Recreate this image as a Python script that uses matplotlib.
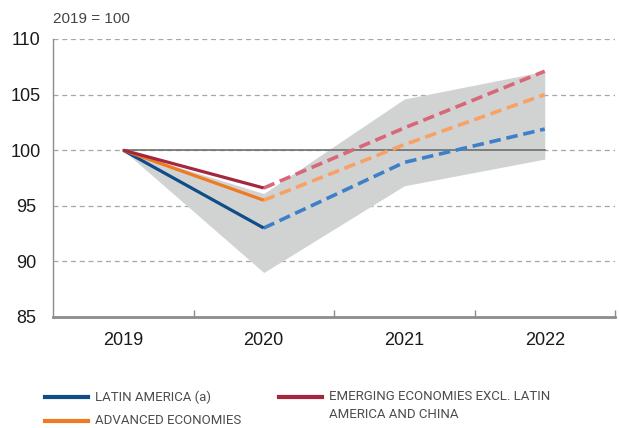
import matplotlib.pyplot as plt
from matplotlib.lines import Line2D

years = ['2019', '2020', '2021', '2022']
latin_america = [100, 93.0, 98.9, 101.9]
advanced = [100, 95.5, 100.5, 105.0]
emerging = [100, 96.6, 102.0, 107.1]
band_low = [100, 89.0, 96.8, 99.2]
band_high = [100, 96.1, 104.6, 107.1]
y_ticks = [85, 90, 95, 100, 105, 110]

plt.rcParams['font.family'] = ['Liberation Sans', 'DejaVu Sans']

fig = plt.figure(figsize=(6.19, 4.28), dpi=100)
ax = fig.add_axes([53 / 619, 1 - 317 / 428, 562 / 619, 278 / 428])

x = list(range(len(years)))

# grey range band
ax.fill_between(x, band_low, band_high, color='#d1d2d2', lw=0, zorder=1)

# grid
for v in y_ticks[1:]:
    ax.axhline(v, color='#a6a6a6', lw=0.9, ls=(0, (4, 3)), zorder=0)
ax.plot([x[0], x[-1]], [100, 100], color='#6e6e6e', lw=1.2, zorder=2)

# observed (solid) and forecast (dashed)
series = [
    (latin_america, '#0f4c88', '#3d80c8'),
    (advanced, '#f07a21', '#f7a263'),
    (emerging, '#a3283f', '#d9677a'),
]
for vals, c_solid, c_dash in series:
    ax.plot(x[:2], vals[:2], color=c_solid, lw=2.3, zorder=4, solid_capstyle='butt')
    ax.plot(x[1:], vals[1:], color=c_dash, lw=2.6, ls=(0, (3.2, 1.6)), zorder=3)

ax.set_xlim(-0.5, 3.5)
ax.set_ylim(85, 110)
ax.set_yticks(y_ticks)
ax.set_xticks(x)
ax.set_xticklabels(years)
ax.set_xticks([0.5, 1.5, 2.5, 3.5], minor=True)
ax.tick_params(axis='x', which='major', length=0, pad=11, labelsize=13, colors='#1a1a1a')
ax.tick_params(axis='x', which='minor', direction='in', length=5, color='#8c8c8c', width=1)
ax.tick_params(axis='y', length=0, pad=19.5, labelsize=13, colors='#1a1a1a')
for lab in ax.get_yticklabels():
    lab.set_horizontalalignment('center')

for s in ['top', 'right']:
    ax.spines[s].set_visible(False)
ax.spines['left'].set_color('#8c8c8c')
ax.spines['left'].set_linewidth(1.0)
ax.spines['bottom'].set_color('#8c8c8c')
ax.spines['bottom'].set_linewidth(2.0)

fig.text(53 / 619, 1 - 19 / 428, '2019 = 100', fontsize=11, color='#444444',
         ha='left', va='center')

# legend
def legend_item(x0, y0, color, text):
    fig.add_artist(Line2D([x0 / 619, (x0 + 43) / 619], [1 - y0 / 428, 1 - y0 / 428],
                          color=color, lw=3, transform=fig.transFigure))
    fig.text((x0 + 50) / 619, 1 - (y0 - 6.5) / 428, text, fontsize=9.5, color='#4d4d4d',
             family=['Roboto', 'Liberation Sans'],
             ha='left', va='top', linespacing=1.4)

legend_item(45, 397, '#0f4c88', 'LATIN AMERICA (a)')
legend_item(45, 421, '#f07a21', 'ADVANCED ECONOMIES')
legend_item(279, 397, '#a3283f', 'EMERGING ECONOMIES EXCL. LATIN\nAMERICA AND CHINA')

fig.savefig('out.png', dpi=100)
